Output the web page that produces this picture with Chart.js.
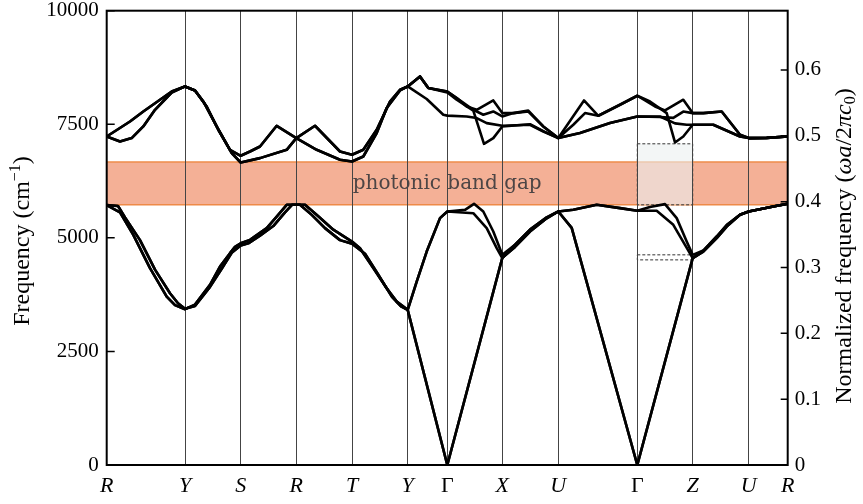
<!DOCTYPE html>
<html><head><meta charset="utf-8">
<script src="https://cdn.jsdelivr.net/npm/chart.js@4.4.1/dist/chart.umd.min.js"></script>
<style>html,body{margin:0;padding:0;background:#fff}#c{display:block}</style>
</head><body>
<canvas id="c" width="863" height="504"></canvas>
<script>
// high-symmetry path
const kLabels = ['R','Y','S','R','T','Y','Γ','X','U','Γ','Z','U','R'];
const kTicks = [0,78.3,134,189.6,245.3,301,340.6,395.6,451.6,530.6,586,642,681];
const freqTicks = [0,2500,5000,7500,10000];
const normTicks = [0,0.1,0.2,0.3,0.4,0.5,0.6];
const freqMax = 10000;
const normMax = 0.69;
const gapRange = [5727, 6667];
const gapLabel = 'photonic band gap';
const boxUpper = [530.6, 586, 5727, 7070];
const boxLower = [530.6, 586, 4515, 4626];

// lower bands: left part (R..Y) two lines
const lowLeftA = [[0,5720],[13.3,5560],[26.6,5066],[43.3,4333],[60,3707],[68.3,3520],[78.3,3430],[88.3,3530],[103.3,3965],[113.3,4368],[123.3,4663],[128.3,4800],[134,4880],[143.3,4956],[160,5214],[170,5469],[180,5727],[189.6,5727],[198.3,5727],[211.3,5480],[226.6,5180],[245.3,4918],[253.3,4773],[266.6,4333],[280,3892],[290,3597],[301,3414]];
const lowLeftB = [[0,5720],[11.3,5700],[18.3,5450],[33.3,4950],[48.3,4300],[63.3,3780],[71.3,3560],[78.3,3440],[88.3,3500],[103.3,3920],[115.3,4330],[125.3,4680],[134,4830],[141.6,4880],[153.3,5050],[166.6,5260],[178.3,5560],[185.3,5727],[189.6,5727],[193.3,5727],[205.3,5500],[218.3,5214],[233.3,4950],[245.3,4870],[258.3,4650],[271.3,4200],[285.3,3700],[294.3,3490],[301,3414]];
// acoustic branch after Y
const acousticRight = [[340.6,0],[395.6,4560],[408.3,4800],[423.3,5140],[440,5430],[451.6,5580],[465,5220],[530.6,0],[586,4552],[596.6,4698],[610,4993],[620,5249],[633.3,5507],[642,5580],[666.6,5690],[681,5750]];
const optRightA = [[310,4038],[320,4698],[333.3,5434],[340.6,5580],[366.6,5543],[380,5214],[390,4773],[395.6,4552],[408.3,4850],[423.3,5180],[440,5450],[451.6,5580],[466.6,5617],[490,5727],[513.3,5654],[530.6,5595],[550,5595],[566.6,5286],[578.3,4846],[586,4552],[596.6,4720],[610,5030],[620,5280],[633.3,5510],[642,5580],[666.6,5690],[681,5750]];
const optRightB = [[310,4038],[320,4698],[333.3,5434],[340.6,5580],[358.3,5617],[367.3,5749],[376.6,5580],[386.6,5140],[395.6,4626],[408.3,4850],[423.3,5180],[440,5450],[451.6,5580],[466.6,5617],[490,5727],[513.3,5654],[530.6,5595],[543.3,5680],[558.3,5742],[570,5434],[580,4918],[586,4626],[596.6,4720],[610,5030],[620,5280],[633.3,5510],[642,5580],[666.6,5690],[681,5750]];

// upper bands
const upLeftA = [[0,7231],[13.3,7121],[25,7196],[36.6,7452],[48.3,7819],[65,8200],[78.3,8333],[88.3,8245],[96.6,8002],[110,7452],[125,6865],[134,6659],[153.3,6755],[180,6938],[189.6,7196],[210,6938],[233.3,6718],[245.3,6681],[256.6,6791],[270,7306],[280,7857],[293.3,8245],[301,8333]];
const upLeftB = [[0,7231],[23.3,7561],[36.6,7782],[53.3,8040],[65,8222],[78.3,8333],[88.3,8245],[100,7892],[111.6,7379],[123.3,6938],[134,6806],[143.3,6901],[153.3,7011],[170,7467],[189.6,7196],[208.3,7467],[233.3,6901],[245.3,6828],[256.6,6938],[270,7379],[283.3,8002],[293.3,8260],[301,8333]];
const upRight5 = [[320,8057],[336.6,7709],[340.6,7690],[360,7672],[370,7637],[380,7526],[395.6,7467],[423.3,7489],[436.6,7341],[451.6,7196],[473.3,7306],[503.3,7526],[530.6,7672],[553.3,7672],[568.3,7520],[580,7489],[586,7489],[606.6,7489],[633.3,7231],[642,7196],[660,7200],[681,7231]];
const upRight6 = [[313.3,8553],[321.6,8297],[340.6,8200],[350,8040],[366.6,7800],[377.3,7070],[386.6,7196],[395.6,7452],[423.3,7500],[436.6,7350],[451.6,7196],[473.3,7306],[503.3,7526],[530.6,7672],[553.3,7660],[566.6,7640],[576.6,7780],[586,7746],[596.6,7746],[615,7782],[633.3,7269],[642,7196],[660,7200],[681,7231]];
const upRight7 = [[313.3,8553],[321.6,8297],[340.6,8222],[350,8077],[366.6,7819],[376.6,7709],[386.6,7782],[395.6,7672],[406.6,7746],[421.6,7780],[436.6,7452],[451.6,7196],[466.6,7489],[478.3,7746],[491.6,7687],[513.3,7930],[530.6,8128],[543.3,8002],[560,7746],[568.3,7100],[576.6,7231],[586,7489],[606.6,7489],[633.3,7231],[642,7196],[660,7200],[681,7231]];
const upRight8 = [[313.3,8553],[321.6,8297],[340.6,8222],[350,8077],[360,7892],[370,7819],[386.6,8024],[395.6,7746],[406.6,7746],[421.6,7800],[436.6,7452],[451.6,7196],[477.3,8024],[491.6,7687],[513.3,7930],[530.6,8128],[548.3,7892],[558.3,7804],[576.6,8040],[586,7746],[596.6,7746],[615,7782],[633.3,7269],[642,7196],[660,7200],[681,7231]];

const bands = [
  lowLeftA.concat(acousticRight),
  lowLeftB.concat(acousticRight),
  lowLeftB.concat(optRightA),
  lowLeftA.concat(optRightB),
  upLeftA.concat(upRight5),
  upLeftB.concat(upRight6),
  upLeftA.concat(upRight7),
  upLeftB.concat(upRight8)
];

const SERIF = '"Liberation Serif", "Times New Roman", serif';

function drawRich(ctx, segs, cx, cy){
  ctx.save();
  ctx.translate(cx, cy);
  ctx.rotate(-Math.PI/2);
  ctx.textBaseline = 'alphabetic';
  ctx.fillStyle = '#000';
  let total = 0;
  segs.forEach(s => { ctx.font = s.font; s.w = ctx.measureText(s.t).width; total += s.w; });
  let x = -total/2;
  segs.forEach(s => { ctx.font = s.font; ctx.fillText(s.t, x, 8 + (s.dy||0)); x += s.w; });
  ctx.restore();
}

const overlay = {
  id: 'overlay',
  beforeDraw(chart){
    const {ctx, chartArea: a, scales: {x, y}} = chart;
    ctx.save();
    ctx.fillStyle = '#fff';
    ctx.fillRect(0, 0, chart.width, chart.height);
    const yt = y.getPixelForValue(gapRange[1]), yb = y.getPixelForValue(gapRange[0]);
    ctx.fillStyle = '#F4B096';
    ctx.fillRect(a.left, yt, a.right - a.left, yb - yt);
    ctx.strokeStyle = '#EE8A48';
    ctx.lineWidth = 1.5;
    ctx.beginPath();
    ctx.moveTo(a.left, yt); ctx.lineTo(a.right, yt);
    ctx.moveTo(a.left, yb); ctx.lineTo(a.right, yb);
    ctx.stroke();
    ctx.fillStyle = '#4d4545';
    ctx.font = '20px "DejaVu Serif", serif';
    ctx.textAlign = 'center';
    ctx.textBaseline = 'middle';
    ctx.fillText(gapLabel, (a.left + a.right)/2, (yt + yb)/2);
    // dashed boxes
    ctx.setLineDash([3, 2]);
    ctx.lineWidth = 1;
    ctx.strokeStyle = '#333';
    [[boxUpper, 'rgba(235,240,240,0.6)'], [boxLower, 'rgba(255,255,255,0.8)']].forEach(([b, fc]) => {
      const x0 = x.getPixelForValue(b[0]), x1 = x.getPixelForValue(b[1]);
      const y0 = y.getPixelForValue(b[3]), y1 = y.getPixelForValue(b[2]);
      ctx.fillStyle = fc;
      ctx.fillRect(x0, y0, x1 - x0, y1 - y0);
      ctx.strokeRect(x0, y0, x1 - x0, y1 - y0);
    });
    ctx.restore();
  },
  afterDraw(chart){
    const {ctx, chartArea: a, scales: {y, y2}} = chart;
    ctx.save();
    ctx.strokeStyle = '#000';
    ctx.lineWidth = 1.5;
    ctx.beginPath();
    freqTicks.forEach(v => { const p = y.getPixelForValue(v); ctx.moveTo(a.left, p); ctx.lineTo(a.left + 8, p); });
    normTicks.forEach(v => { const p = y2.getPixelForValue(v); ctx.moveTo(a.right - 7, p); ctx.lineTo(a.right, p); });
    ctx.stroke();
    ctx.lineWidth = 2;
    ctx.strokeRect(a.left, a.top, a.right - a.left, a.bottom - a.top);
    ctx.restore();
    const f = '24px ' + SERIF, fi = 'italic 24px ' + SERIF, fs = '16px ' + SERIF;
    drawRich(ctx, [
      {t:'Frequency (cm', font:f},
      {t:'\u22121', font:fs, dy:-9},
      {t:')', font:f}
    ], 21, 241);
    drawRich(ctx, [
      {t:'Normalized frequency (', font:f},
      {t:'ωa', font:fi},
      {t:'/2', font:f},
      {t:'πc', font:fi},
      {t:'0', font:fs, dy:4},
      {t:')', font:f}
    ], 843, 246);
  }
};

new Chart(document.getElementById('c'), {
  type: 'line',
  data: {
    datasets: bands.map(b => ({
      data: b.map(([k, fr]) => ({x: k, y: fr})),
      borderColor: '#000', borderWidth: 2.6, pointRadius: 0, tension: 0, fill: false,
      borderJoinStyle: 'round', borderCapStyle: 'round', yAxisID: 'y'
    }))
  },
  options: {
    responsive: false, animation: false, devicePixelRatio: 1,
    layout: {padding: {top: 10.7, left: 0, right: 0, bottom: 0}},
    plugins: {legend: {display: false}, tooltip: {enabled: false}},
    scales: {
      x: {
        type: 'linear', min: kTicks[0], max: kTicks[kTicks.length - 1],
        afterBuildTicks: s => { s.ticks = kTicks.map(v => ({value: v})); },
        afterFit: s => { s.height = 39; s.paddingLeft = 0; s.paddingRight = 0; },
        ticks: {
          autoSkip: false, maxRotation: 0, padding: 8, color: '#000',
          callback: (v, i) => kLabels[i],
          font: c => ({family: SERIF, size: 22, style: kLabels[c.index] === 'Γ' ? 'normal' : 'italic'})
        },
        grid: {color: '#444', lineWidth: 1, drawTicks: false},
        border: {display: false}
      },
      y: {
        position: 'left', min: 0, max: freqMax,
        afterBuildTicks: s => { s.ticks = freqTicks.map(v => ({value: v})); },
        afterFit: s => { s.width = 106.7; s.paddingTop = 0; s.paddingBottom = 0; },
        ticks: {padding: 8, color: '#000', font: {family: SERIF, size: 21}, callback: v => String(v)},
        grid: {display: false, drawTicks: false},
        border: {display: false}
      },
      y2: {
        position: 'right', min: 0, max: normMax,
        afterBuildTicks: s => { s.ticks = normTicks.map(v => ({value: v})); },
        afterFit: s => { s.width = 863 - 787.7; s.paddingTop = 0; s.paddingBottom = 0; },
        ticks: {padding: 7, color: '#000', font: {family: SERIF, size: 21}, callback: v => v === 0 ? '0' : v.toFixed(1)},
        grid: {display: false, drawTicks: false},
        border: {display: false}
      }
    }
  },
  plugins: [overlay]
});
</script>
</body></html>
